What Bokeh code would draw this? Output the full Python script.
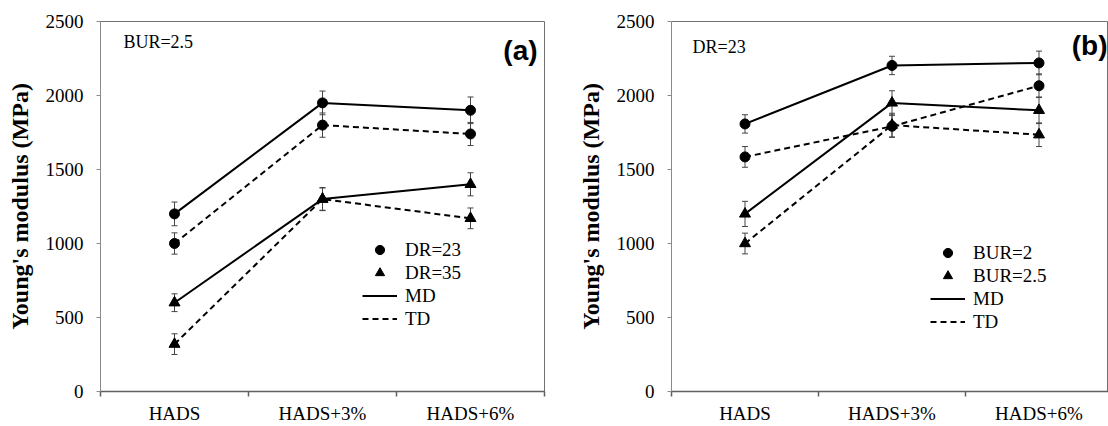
from bokeh.plotting import figure
from bokeh.models import (FixedTicker, Range1d, Whisker, TeeHead, ColumnDataSource,
                          Legend, LegendItem, Label)
from bokeh.layouts import row
from bokeh.embed import file_html
from bokeh.resources import INLINE

categories = ["HADS", "HADS+3%", "HADS+6%"]
y_ticks = [0, 500, 1000, 1500, 2000, 2500]

# Panel (a): BUR=2.5
a_dr23_md = [1200, 1950, 1900]
a_dr23_md_err = [80, 80, 90]
a_dr23_td = [1000, 1800, 1740]
a_dr23_td_err = [72, 82, 78]
a_dr35_md = [600, 1300, 1400]
a_dr35_md_err = [60, 78, 78]
a_dr35_td = [320, 1300, 1170]
a_dr35_td_err = [70, 75, 70]

# Panel (b): DR=23
b_bur2_md = [1808, 2203, 2220]
b_bur2_md_err = [62, 62, 80]
b_bur2_td = [1585, 1792, 2066]
b_bur2_td_err = [70, 75, 80]
b_bur25_md = [1200, 1950, 1900]
b_bur25_md_err = [85, 82, 90]
b_bur25_td = [1000, 1800, 1735]
b_bur25_td_err = [70, 80, 80]

SERIF = "'Liberation Serif', 'Times New Roman', serif"
SANS = "'Liberation Sans', Arial, sans-serif"
DASH = "6 4"

xs = [i + 0.5 for i in range(len(categories))]
bounds = list(range(len(categories) + 1))


def make_panel(series, legend_labels, note, note_xy, tag, tag_xy, x_end,
               min_left, min_right, min_top, min_bottom, legend_loc):
    p = figure(width=554, height=426,
               x_range=Range1d(0, x_end), y_range=Range1d(0, 2500),
               output_backend="svg", toolbar_location=None,
               min_border_left=min_left, min_border_right=min_right,
               min_border_top=min_top, min_border_bottom=min_bottom)
    p.xgrid.visible = False
    p.ygrid.visible = False
    p.outline_line_color = "#707070"
    p.outline_line_width = 1
    p.background_fill_color = "white"
    p.border_fill_color = "white"

    # x axis
    xa = p.xaxis[0]
    xa.ticker = FixedTicker(ticks=xs, minor_ticks=bounds)
    xa.major_label_overrides = {x: c for x, c in zip(xs, categories)}
    xa.major_tick_line_color = None
    xa.major_tick_out = 0
    xa.major_tick_in = 0
    xa.minor_tick_out = 5
    xa.minor_tick_in = 0
    xa.minor_tick_line_color = "#606060"
    xa.minor_tick_line_width = 1.5
    xa.axis_line_color = "#606060"
    xa.axis_line_width = 1.5
    xa.major_label_text_font = SERIF
    xa.major_label_text_font_size = "19px"
    xa.major_label_text_color = "black"
    xa.major_label_standoff = 6

    # y axis
    ya = p.yaxis[0]
    ya.ticker = FixedTicker(ticks=y_ticks)
    ya.major_tick_out = 4
    ya.major_tick_in = 0
    ya.minor_tick_line_color = None
    ya.axis_line_color = "#8a8a8a"
    ya.major_tick_line_color = "#8a8a8a"
    ya.major_label_text_font = SERIF
    ya.major_label_text_font_size = "19px"
    ya.major_label_text_color = "black"
    ya.major_label_standoff = 13
    ya.axis_label = "Young's modulus (MPa)"
    ya.axis_label_text_font = SERIF
    ya.axis_label_text_font_style = "bold"
    ya.axis_label_text_font_size = "24px"
    ya.axis_label_text_color = "black"
    ya.axis_label_standoff = 10

    legend_renderers = {}
    for vals, errs, marker, dash in series:
        src = ColumnDataSource(dict(x=xs, y=vals,
                                    upper=[v + e for v, e in zip(vals, errs)],
                                    lower=[v - e for v, e in zip(vals, errs)]))
        w = Whisker(source=src, base="x", upper="upper", lower="lower",
                    line_color="#444444", line_width=1,
                    upper_head=TeeHead(size=6, line_color="#444444", line_width=1),
                    lower_head=TeeHead(size=6, line_color="#444444", line_width=1))
        p.add_layout(w)
        lr = p.line("x", "y", source=src, line_color="black", line_width=2,
                     line_dash=dash)
        sr = p.scatter("x", "y", source=src, marker=marker,
                       size=10 if marker == "circle" else 11,
                       fill_color="black", line_color="black")
        legend_renderers.setdefault(marker, sr)
        legend_renderers.setdefault(dash, lr)

    items = [
        LegendItem(label=legend_labels[0], renderers=[legend_renderers["circle"]]),
        LegendItem(label=legend_labels[1], renderers=[legend_renderers["triangle"]]),
        LegendItem(label="MD", renderers=[legend_renderers["solid"]]),
        LegendItem(label="TD", renderers=[legend_renderers[DASH]]),
    ]
    leg = Legend(items=items, location=legend_loc, glyph_width=35, glyph_height=23,
                 label_height=23, spacing=0, padding=0, margin=0,
                 border_line_color=None, background_fill_alpha=0,
                 label_standoff=8, label_text_font=SERIF,
                 label_text_font_size="19px", label_text_color="black")
    p.add_layout(leg)

    p.add_layout(Label(x=note_xy[0], y=note_xy[1], text=note, text_font=SERIF,
                       text_font_size="18px", text_baseline="middle",
                       text_color="black"))
    p.add_layout(Label(x=tag_xy[0], y=tag_xy[1], text=tag, text_font=SANS,
                       text_font_style="bold", text_font_size="28px",
                       text_align="right", text_baseline="middle",
                       text_color="black"))
    return p


pa = make_panel(
    [(a_dr23_md, a_dr23_md_err, "circle", "solid"),
     (a_dr23_td, a_dr23_td_err, "circle", DASH),
     (a_dr35_md, a_dr35_md_err, "triangle", "solid"),
     (a_dr35_td, a_dr35_td_err, "triangle", DASH)],
    ["DR=23", "DR=35"], "BUR=2.5", (0.155, 2360), "(a)", (2.953, 2301),
    x_end=3.0, min_left=100, min_right=10,
    min_top=18, min_bottom=34, legend_loc=(262, 61))

pb = make_panel(
    [(b_bur2_md, b_bur2_md_err, "circle", "solid"),
     (b_bur2_td, b_bur2_td_err, "circle", DASH),
     (b_bur25_md, b_bur25_md_err, "triangle", "solid"),
     (b_bur25_td, b_bur25_td_err, "triangle", DASH)],
    ["BUR=2", "BUR=2.5"], "DR=23", (0.143, 2331), "(b)", (2.966, 2340),
    x_end=437 / 147, min_left=117, min_right=0,
    min_top=21, min_bottom=35, legend_loc=(259, 58))

layout = row(pa, pb, spacing=0)
open("out.html", "w").write(file_html(layout, INLINE))
